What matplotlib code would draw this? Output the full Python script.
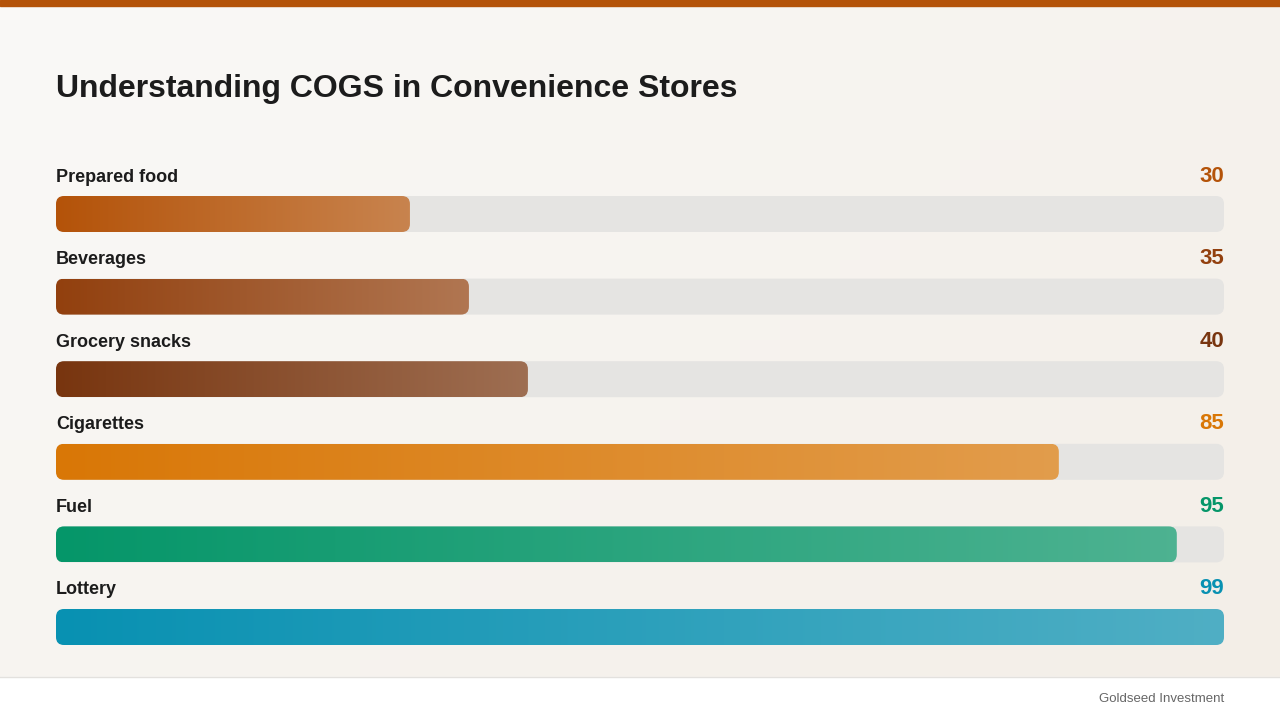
import numpy as np
import matplotlib.pyplot as plt
from matplotlib.patches import FancyBboxPatch, Rectangle
from matplotlib.colors import to_rgb

# data
categories = ['Prepared food', 'Beverages', 'Grocery snacks', 'Cigarettes', 'Fuel', 'Lottery']
values = [30, 35, 40, 85, 95, 99]
bar_colors = ['#b45309', '#92400e', '#78350f', '#d97706', '#059669', '#0891b2']

title = 'Understanding COGS in Convenience Stores'
footer = 'Goldseed Investment'

plt.rcParams['font.family'] = ['Liberation Sans', 'DejaVu Sans']

W, H = 1280, 720
fig = plt.figure(figsize=(W / 100, H / 100), dpi=100)

# background gradient
bg = fig.add_axes([0, 0, 1, 1])
bg.set_xlim(0, W)
bg.set_ylim(H, 0)
bg.axis('off')
c1 = np.array(to_rgb('#faf9f7'))
c2 = np.array(to_rgb('#f3eee7'))
xx, yy = np.meshgrid(np.linspace(0, 1, 64), np.linspace(0, 1, 36))
t = (xx * 0.6 + yy * 0.4)[..., None]
bg.imshow(c1 * (1 - t) + c2 * t, extent=[0, W, H, 0], aspect='auto', zorder=0)
bg.add_patch(Rectangle((0, 0), W, 6, color='#b45309', zorder=2))
bg.add_patch(Rectangle((0, 677), W, 43, color='white', zorder=2))
bg.plot([0, W], [676.5, 676.5], color='#e3e1de', lw=1, zorder=3)
bg.text(56, 89, title, fontsize=23, fontweight='bold', color='#1c1c1c',
        va='center', ha='left', zorder=3)
bg.text(1224, 699, footer, fontsize=9.5, color='#666666', va='center', ha='right', zorder=3)

# bars axes
row_px = 82.6
top_px = 196 - 0.5 * row_px
ax_h = 6 * row_px
ax = fig.add_axes([56 / W, 1 - (top_px + ax_h) / H, 1168 / W, ax_h / H])
ax.set_xlim(0, max(values))
ax.set_ylim(len(categories) - 0.5, -0.5)
ax.axis('off')

bar_h = 36 / row_px
x_per_px = max(values) / 1168
y_per_px = 1 / row_px
rad = 8 * x_per_px
aspect = y_per_px / x_per_px
bgc = np.array(to_rgb('#f7f4ef'))

for i, (cat, v, col) in enumerate(zip(categories, values, bar_colors)):
    track = FancyBboxPatch((0, i), max(values), bar_h,
                           boxstyle=f'round,pad=0,rounding_size={rad}',
                           mutation_aspect=aspect, fc='#e5e4e2', ec='none', zorder=1)
    ax.add_patch(track)
    bar = FancyBboxPatch((0, i), v, bar_h,
                         boxstyle=f'round,pad=0,rounding_size={rad}',
                         mutation_aspect=aspect, fc='none', ec='none', zorder=2)
    ax.add_patch(bar)
    c = np.array(to_rgb(col))
    s = np.linspace(0, 1, 256)[None, :, None]
    grad = c * (1 - 0.3 * s) + bgc * 0.3 * s
    im = ax.imshow(np.repeat(grad, 2, axis=0), extent=[0, v, i + bar_h, i],
                   aspect='auto', zorder=2, interpolation='bilinear')
    im.set_clip_path(bar)
    ax.text(0, i - 19 / row_px, cat, fontsize=13, fontweight='bold', color='#1c1c1c',
            va='center', ha='left')
    ax.text(max(values), i - 20 / row_px, str(v), fontsize=16, fontweight='bold', color=col,
            va='center', ha='right')

ax.set_xlim(0, max(values))
ax.set_ylim(len(categories) - 0.5, -0.5)

fig.savefig('out.png', dpi=100)
